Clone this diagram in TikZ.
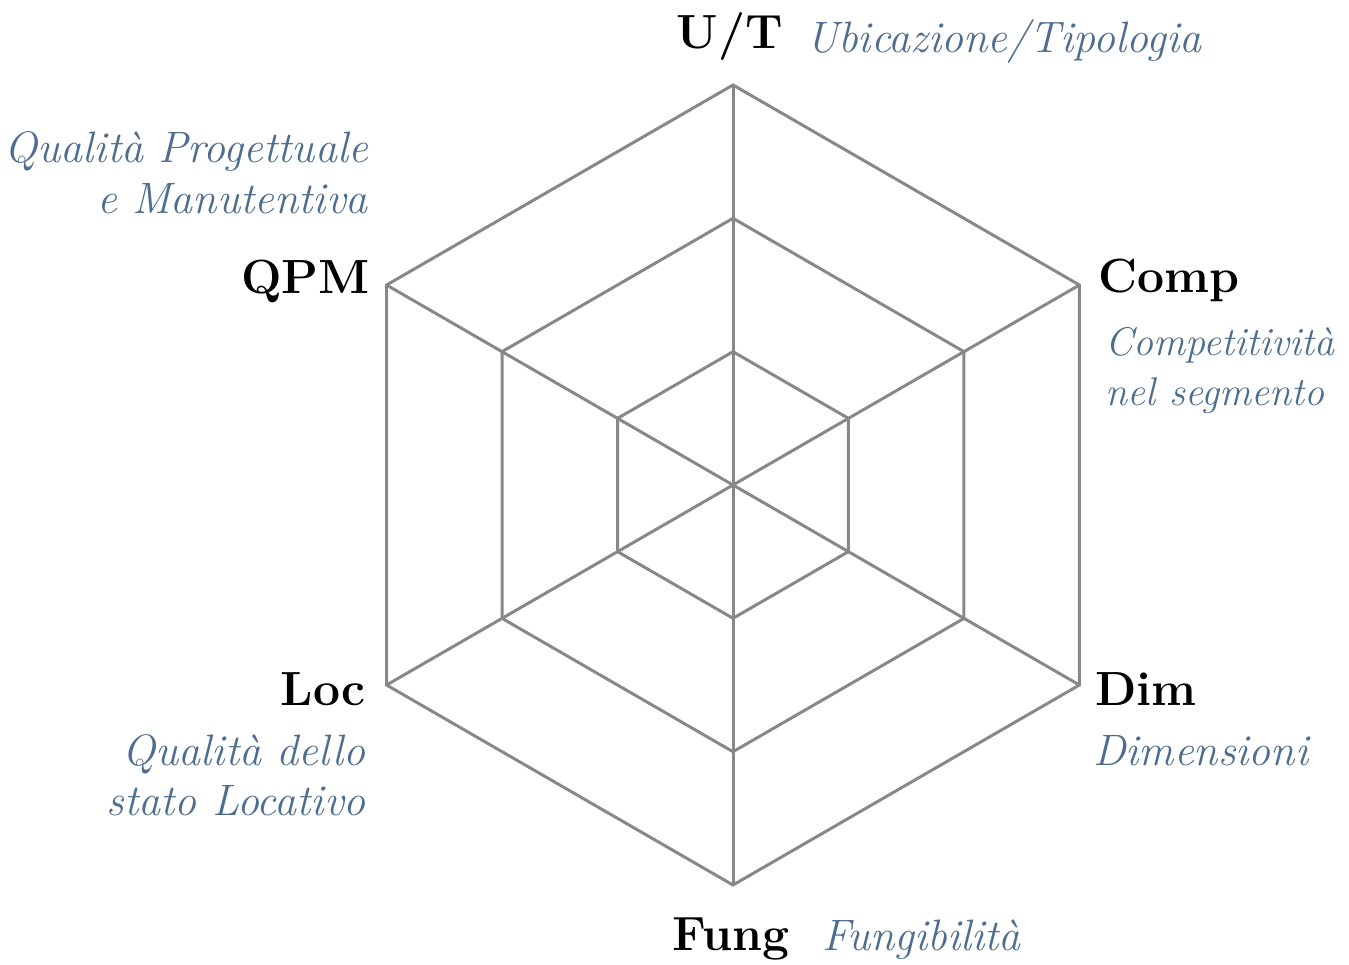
\documentclass[tikz,border=0pt]{standalone}
\usepackage{fontspec}
\usetikzlibrary{calc}
\definecolor{gridgray}{RGB}{136,136,136}
\definecolor{captionblue}{RGB}{78,110,143}
\tikzset{
  grid line/.style={draw=gridgray, line width=3pt, line join=miter},
  axis label/.style={font=\fontsize{48}{54}\selectfont\bfseries, text=black, inner sep=0pt},
  axis caption/.style={font=\fontsize{44}{50}\selectfont\itshape, text=captionblue, inner sep=0pt},
  narrow caption/.style={axis caption, font=\fontsize{40}{46}\selectfont\itshape}
}
\begin{document}
\begin{tikzpicture}[x=1pt, y=-1pt]
\useasboundingbox (0,0) rectangle (1349,964);
% centre and vertices of the three hexagonal rings
\coordinate (O) at (733,485);
\foreach \name/\ang in {ut/90, comp/30, dim/-30, fung/-90, loc/-150, qpm/150} {
  \coordinate (\name3) at ($(O)+(\ang:400 and -400)$);
  \coordinate (\name2) at ($(O)+(\ang:266.7 and -266.7)$);
  \coordinate (\name1) at ($(O)+(\ang:133.3 and -133.3)$);
}
% rings
\foreach \r in {1,2,3} {
  \draw[grid line] (ut\r) -- (comp\r) -- (dim\r) -- (fung\r) -- (loc\r) -- (qpm\r) -- cycle;
}
% spokes
\draw[grid line] (ut3) -- (fung3);
\draw[grid line] (comp3) -- (loc3);
\draw[grid line] (qpm3) -- (dim3);

% axis names
\node[axis label, anchor=base] (lut) at (730,48) {U/T};
\node[axis label, anchor=base west] (lcomp) at (1098,292) {Comp};
\node[axis label, anchor=base west] (ldim) at (1095,705) {Dim};
\node[axis label, anchor=base] (lfung) at (731,950) {Fung};
\node[axis label, anchor=base east] (lloc) at (366,705) {Loc};
\node[axis label, anchor=base east] (lqpm) at (370,293) {QPM};

% descriptions
\node[axis caption, anchor=base west] (cut) at (806,52) {Ubicazione/Tipologia};
\node[narrow caption, anchor=base west] (ccomp1) at (1105,355) {Competitività};
\node[narrow caption, anchor=base west] (ccomp2) at (1105,405) {nel segmento};
\node[axis caption, anchor=base west] (cdim) at (1093,765) {Dimensioni};
\node[axis caption, anchor=base west] (cfung) at (822,950) {Fungibilità};
\node[axis caption, anchor=base east] (cloc1) at (366,765) {Qualità dello};
\node[axis caption, anchor=base east] (cloc2) at (366,815) {stato Locativo};
\node[axis caption, anchor=base east] (cqpm1) at (368,162) {Qualità Progettuale};
\node[axis caption, anchor=base east] (cqpm2) at (368,213) {e Manutentiva};
\end{tikzpicture}
\end{document}
